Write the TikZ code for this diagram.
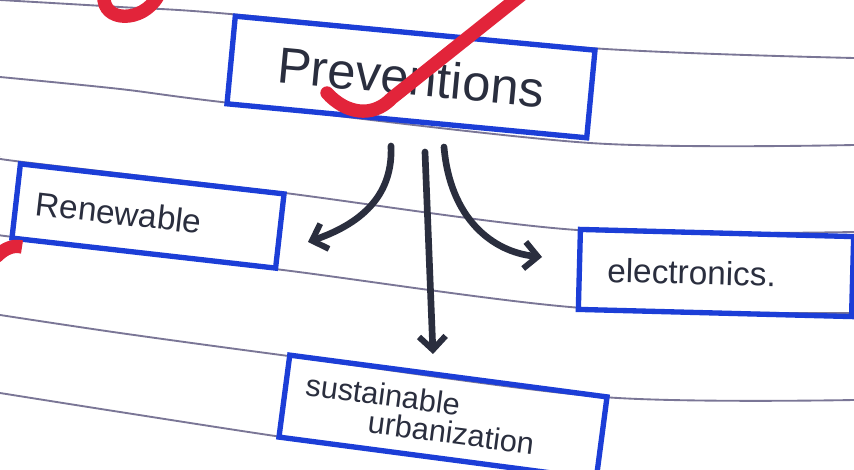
\documentclass[tikz,border=0pt]{standalone}
\usepackage{fontspec}
\setmainfont{Liberation Sans}
\usepackage{tikz}
\usetikzlibrary{arrows.meta}

\definecolor{penblue}{RGB}{28,62,215}
\definecolor{penink}{RGB}{42,46,62}
\definecolor{rulegray}{RGB}{122,118,150}
\definecolor{markred}{RGB}{226,36,58}

\begin{document}
\begin{tikzpicture}[x=0.75pt,y=0.75pt,yscale=-1,xscale=1,
  topicbox/.style={draw=penblue, line width=4pt, inner sep=0pt, text=penink},
  inkarrow/.style={draw=penink, line width=5pt, line cap=round, -{Straight Barb[length=10pt,width=20pt,line width=4.5pt]}},
  ruling/.style={draw=rulegray, line width=1.4pt},
  redmark/.style={draw=markred, line width=10pt}]
\useasboundingbox (0,0) rectangle (854,470);
\clip (0,0) rectangle (854,470);
\fill[white] (0,0) rectangle (854,470);

%Ruled Lines of the page
\draw [ruling] plot[smooth] coordinates {(0,0) (120,7) (230,14) (590,48) (854,58)};
\draw [ruling] plot[smooth] coordinates {(0,77) (120,89) (230,103) (590,143) (854,145)};
\draw [ruling] plot[smooth] coordinates {(0,157) (15,161) (277,192) (577,230) (854,232)};
\draw [ruling] plot[smooth] coordinates {(0,235) (13,237) (283,270) (582,308) (854,313)};
\draw [ruling] plot[smooth] coordinates {(0,315) (120,333) (281,355) (603,397) (854,400)};
\draw [ruling] plot[smooth] coordinates {(0,393) (120,412) (282,437) (450,460) (560,476)};

% Boxes
\node [topicbox, rotate=-5.4, minimum width=271pt, minimum height=66pt] (prev) at (411,77)
  {\raisebox{-8pt}{\fontsize{38}{40}\selectfont Preventions}};
\node [topicbox, rotate=-6.5, minimum height=56pt, text width=169pt, inner xsep=15pt, align=left] (renew) at (148,216)
  {\fontsize{25}{28}\selectfont Renewable};
\node [topicbox, rotate=-1.5, minimum height=60pt, text width=163pt, inner xsep=21pt, align=left] (elec) at (716,273)
  {\raisebox{-7pt}{\fontsize{25}{28}\selectfont electronics.}};
\node [topicbox, rotate=-7.5, minimum height=62pt, text width=210pt, inner xsep=15pt, align=left] (sust) at (443,417)
  {\fontsize{23}{26}\selectfont sustainable\\[4pt]\hspace*{50pt}urbanization};

% Arrow ends
\coordinate (lstart) at (391,146);
\coordinate (ltip) at (308,242);
\coordinate (mstart) at (425,152);
\coordinate (mtip) at (433,354);
\coordinate (rstart) at (444,147);
\coordinate (rtip) at (542,257);

%Curved Arrows
\draw [inkarrow] (lstart) .. controls (393,192) and (366,222) .. (ltip);
\draw [inkarrow] (mstart) -- (mtip);
\draw [inkarrow] (rstart) .. controls (450,218) and (492,252) .. (rtip);

%Red ticks
\draw [redmark, line cap=round] (327,93) .. controls (345,113) and (372,119) .. (392,98) -- (525,-8);
\draw [redmark] (104,-4) .. controls (102,22) and (142,24) .. (158,-4);
\draw [redmark] (-4,257) .. controls (5,248) and (13,245) .. (22,247);
\end{tikzpicture}
\end{document}
